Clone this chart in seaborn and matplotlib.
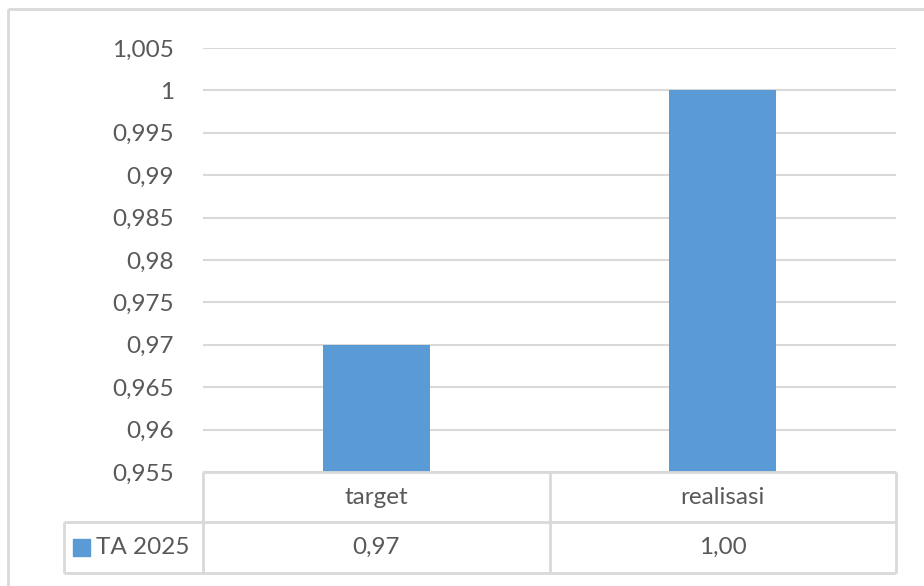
import pandas as pd
import matplotlib.pyplot as plt
import seaborn as sns
from matplotlib.patches import Rectangle

# data
categories = ['target', 'realisasi']
values = [0.97, 1.00]
series_name = 'TA 2025'
value_labels = ['0,97', '1,00']
y_ticks = [0.955, 0.96, 0.965, 0.97, 0.975, 0.98, 0.985, 0.99, 0.995, 1.0, 1.005]
y_tick_labels = ['0,955', '0,96', '0,965', '0,97', '0,975', '0,98', '0,985',
                 '0,99', '0,995', '1', '1,005']

sns.set_theme(style='white')
plt.rcParams['font.family'] = ['Lato', 'DejaVu Sans']

BAR = '#5b9bd5'
GRID = '#d9d9d9'
TXT = '#595959'
W, H = 924, 586
FS = 17.5

fig = plt.figure(figsize=(W / 100, H / 100), dpi=100)

# pixel helper -> figure fraction
def fx(x):
    return x / W

def fy(y):
    return 1 - y / H

left, right, top, bottom = 203, 896, 48, 472
ax = fig.add_axes([fx(left), fy(bottom), fx(right) - fx(left), fy(top) - fy(bottom)])

df = pd.DataFrame({'cat': categories, 'val': values})
sns.barplot(data=df, x='cat', y='val', ax=ax, color=BAR, width=0.31,
            saturation=1, linewidth=0, zorder=3)
ax.set_ylim(0.955, 1.005)
ax.set_yticks(y_ticks)
ax.set_yticklabels(y_tick_labels, fontsize=FS, color=TXT)
ax.tick_params(axis='y', length=0, pad=21)
ax.set_xticks([])
ax.set_xlabel('')
ax.set_ylabel('')
for s in ax.spines.values():
    s.set_visible(False)
for t in y_ticks:
    ax.axhline(t, color=GRID, lw=1.5, zorder=1)

# overlay in pixel coordinates for the data table and frame
ov = fig.add_axes([0, 0, 1, 1], facecolor='none')
ov.set_xlim(0, W)
ov.set_ylim(H, 0)
ov.axis('off')

lc = dict(color=GRID, lw=2, solid_capstyle='butt')
# outer chart border
ov.plot([8, 8], [9, H + 5], **lc)
ov.plot([8, W + 5], [9, 9], **lc)

# data table
cols = [left, (left + right) / 2, right]
row_top, row_mid, row_bot = 472, 522, 573
leg_left = 64
ov.plot([left, right], [row_top, row_top], **lc)
ov.plot([leg_left, right], [row_mid, row_mid], **lc)
ov.plot([leg_left, right], [row_bot, row_bot], **lc)
for x in cols:
    ov.plot([x, x], [row_top, row_bot], **lc)
ov.plot([leg_left, leg_left], [row_mid, row_bot], **lc)

for i, (c, v) in enumerate(zip(categories, value_labels)):
    cx = (cols[i] + cols[i + 1]) / 2
    ov.text(cx, (row_top + row_mid) / 2, c, ha='center', va='center',
            fontsize=FS, color=TXT)
    ov.text(cx, (row_mid + row_bot) / 2, v, ha='center', va='center',
            fontsize=FS, color=TXT)

ov.add_patch(Rectangle((73, 539), 17, 17, color=BAR))
ov.text(96, (row_mid + row_bot) / 2, series_name, ha='left', va='center',
        fontsize=FS, color=TXT)

fig.savefig('out.png', dpi=100)
